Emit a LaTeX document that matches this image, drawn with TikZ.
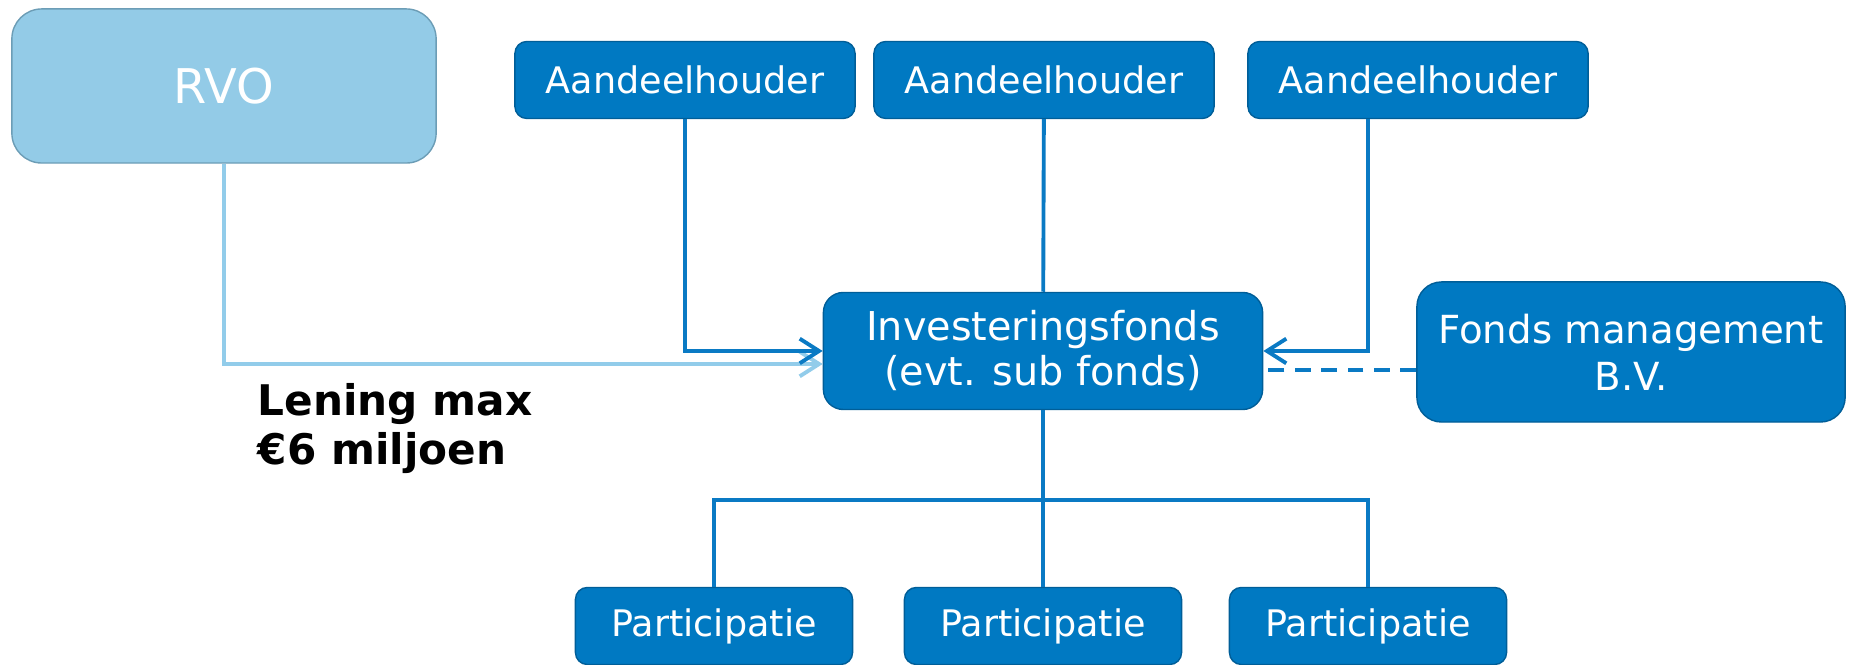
\documentclass[tikz,border=0pt]{standalone}
\usepackage{fontspec}
\setmainfont{DejaVu Sans}
\usetikzlibrary{arrows.meta}
\definecolor{rvoblauw}{HTML}{93CBE7}
\definecolor{rvorand}{HTML}{6C9DB6}
\definecolor{donkerblauw}{HTML}{0079C2}
\definecolor{randblauw}{HTML}{005E98}
\definecolor{lijnblauw}{HTML}{0A7AC4}
\definecolor{lichtlijn}{HTML}{92CCEA}

\begin{document}
\begin{tikzpicture}[x=0.01cm, y=-0.01cm,
	blok/.style={shape=rectangle, rounded corners=3.4pt, draw=randblauw, line width=0.4pt, fill=donkerblauw, text=white, align=center, inner sep=0pt},
	klein/.style={blok, minimum width=3.4cm, minimum height=0.77cm, font=\fontsize{10.4}{12.5}\selectfont},
	deel/.style={klein, minimum width=2.77cm},
	lijn/.style={draw=lijnblauw, line width=1.1pt},
	pijl/.style={lijn, -{Straight Barb[length=5.5pt,width=7pt]}}]
	\useasboundingbox (0,0) rectangle (1852,665);
	\node (rvo) at (224,86) [blok, fill=rvoblauw, draw=rvorand, rounded corners=8.5pt, minimum width=4.24cm, minimum height=1.54cm, font=\fontsize{13.6}{16}\selectfont] {RVO};
	\node (a1) at (685,80) [klein] {Aandeelhouder};
	\node (a2) at (1044,80) [klein] {Aandeelhouder};
	\node (a3) at (1418,80) [klein] {Aandeelhouder};
	\node (fonds) at (1043,351) [blok, rounded corners=5.7pt, minimum width=4.39cm, minimum height=1.17cm, font=\fontsize{11.3}{12.8}\selectfont] {Investeringsfonds\\(evt. sub fonds)};
	\node (beheer) at (1631,352) [blok, rounded corners=7pt, minimum width=4.28cm, minimum height=1.4cm, font=\fontsize{11}{13.4}\selectfont] {Fonds management\\B.V.};
	\node (p1) at (714,626) [deel] {Participatie};
	\node (p2) at (1043,626) [deel] {Participatie};
	\node (p3) at (1368,626) [deel] {Participatie};
	\node (lening) at (257,383) [anchor=north west, inner sep=0pt, align=left, font=\fontsize{12}{13.8}\selectfont\bfseries] {Lening max\\€6 miljoen};
	\coordinate (splits) at (1043,500);
	\draw [pijl, draw=lichtlijn] (rvo.south) |- ([yshift=-0.13cm]fonds.west);
	\draw [pijl] (a1.south) |- (fonds.west);
	\draw [lijn] (a2) -- (fonds);
	\draw [pijl] ([xshift=-0.5cm]a3.south) |- (fonds.east);
	\draw [lijn, dash pattern=on 4.5pt off 3pt] ([yshift=-0.18cm]beheer.west) -- ([yshift=-0.18cm]beheer.west -| fonds.east);
	\draw [lijn] (fonds) -- (splits);
	\draw [lijn] (p1.north) |- (splits) -| (p3.north);
	\draw [lijn] (splits) -- (p2);
\end{tikzpicture}
\end{document}
